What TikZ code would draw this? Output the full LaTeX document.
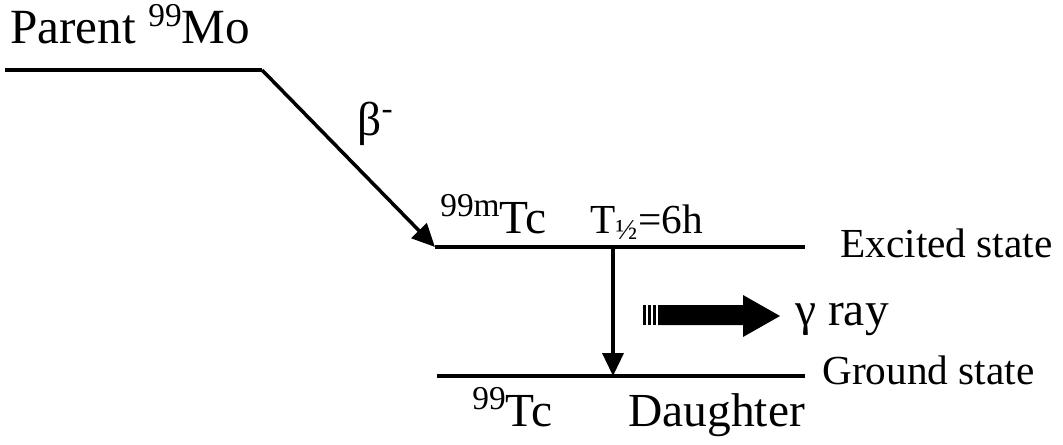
\documentclass[tikz,border=0pt]{standalone}
\usepackage{fontspec}
\setmainfont{Liberation Serif}
\usetikzlibrary{arrows.meta}
\newcommand{\sups}[1]{\raisebox{0.34em}{\fontsize{19}{22}\selectfont #1}}
\newcommand{\bigfont}{\fontsize{27}{32}\selectfont}
\newcommand{\smallfont}{\fontsize{23.5}{28}\selectfont}

\begin{document}
\begin{tikzpicture}[
  x=0.02cm, y=-0.02cm,
  level/.style={line width=2pt},
  decay/.style={line width=2pt, -{Triangle[length=0.46cm, width=0.42cm]}},
  lbl/.style={inner sep=0pt, anchor=base west, font=\bigfont},
  slbl/.style={inner sep=0pt, anchor=base west, font=\smallfont}
]
\useasboundingbox (0,0) rectangle (1063,444);

% energy levels
\coordinate (pL) at (5,70);    \coordinate (pR) at (262,70);
\coordinate (eL) at (435,247); \coordinate (eR) at (805,247);
\coordinate (gL) at (437,376); \coordinate (gR) at (805,376);
\coordinate (eM) at (613,247); \coordinate (gM) at (613,376);

\draw[level] (pL) -- (pR);
\draw[level] (eL) -- (eR);
\draw[level] (gL) -- (gR);

% transitions
\draw[decay] (pR) -- (eL);
\draw[decay] (eM) -- (gM);

% labels
\node[lbl, font=\fontsize{28}{32}\selectfont] (parent) at (10,43) {Parent \sups{99}Mo};
\node[font=\bigfont, inner sep=0pt] (beta) at (375,124) {β\sups{-}};
\node[lbl]  (tcm)    at (440,233) {\sups{99m}Tc};
\node[slbl] (half)   at (590,233) {T\textsubscript{½}=6h};
\node[slbl] (exc)    at (840,257) {Excited state};
\node[slbl] (gnd)    at (822,384) {Ground state};
\node[lbl]  (tc)     at (472,426) {\sups{99}Tc};
\node[lbl]  (dau)    at (628,426) {Daughter};
\node[lbl]  (gam)    at (795,325) {γ ray};

% gamma arrow
\foreach \xa in {643,648,653}
  \fill (\xa,305) rectangle ++(3,20);
\fill (658,305) -- (743,305) -- (743,295) -- (780,316) -- (743,337)
      -- (743,325) -- (658,325) -- cycle;
\end{tikzpicture}
\end{document}
